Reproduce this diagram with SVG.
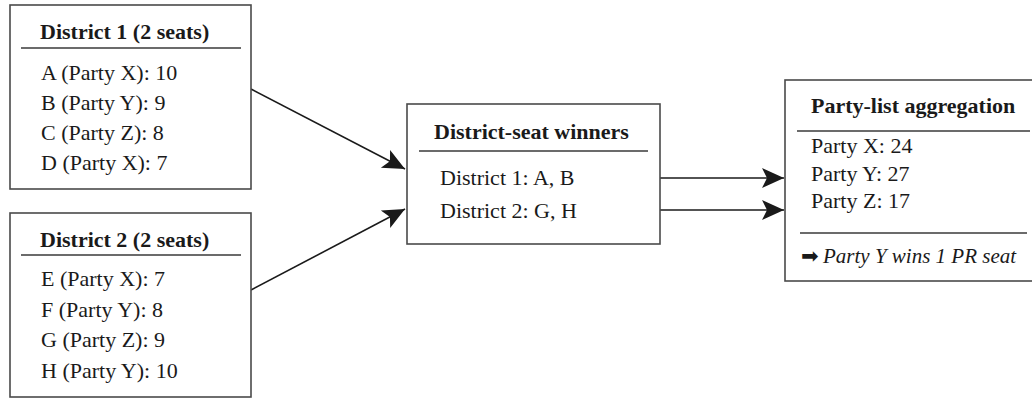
<svg xmlns="http://www.w3.org/2000/svg" width="1032" height="398" viewBox="0 0 1032 398">
<style>
.box{fill:#fff;stroke:#4a4a4a;stroke-width:1.6}
.sep{stroke:#3a3a3a;stroke-width:1.4}
.t{font-family:"Liberation Serif","Times New Roman",serif;font-size:22px;font-weight:bold;fill:#1a1a1a}
.b{font-family:"Liberation Serif","Times New Roman",serif;font-size:22px;fill:#1a1a1a}
.i{font-family:"Liberation Serif","Times New Roman",serif;font-size:21px;font-style:italic;fill:#1a1a1a}
.c{stroke:#1a1a1a;stroke-width:1.6;fill:none}
</style>
<defs>
<marker id="ah" markerWidth="24" markerHeight="22" refX="22" refY="11" orient="auto" markerUnits="userSpaceOnUse">
<path d="M0,1 L22,11 L0,21 L5,11 z" fill="#1a1a1a"/>
</marker>
</defs>
<rect width="1032" height="398" fill="#fff"/>
<g id="connectors">
<line class="c" x1="251" y1="89" x2="405" y2="169" marker-end="url(#ah)"/>
<line class="c" x1="251" y1="290" x2="405" y2="209" marker-end="url(#ah)"/>
<line class="c" x1="660" y1="178" x2="784" y2="178" marker-end="url(#ah)"/>
<line class="c" x1="660" y1="210" x2="784" y2="210" marker-end="url(#ah)"/>
</g>
<g id="district1">
<rect class="box" x="10" y="5" width="241" height="184"/>
<text class="t" x="40" y="39">District 1 (2 seats)</text>
<line class="sep" x1="21" y1="48" x2="241" y2="48"/>
<text class="b" x="41" y="80">A (Party X): 10</text>
<text class="b" x="41" y="110">B (Party Y): 9</text>
<text class="b" x="41" y="140">C (Party Z): 8</text>
<text class="b" x="41" y="170">D (Party X): 7</text>
</g>
<g id="district2">
<rect class="box" x="10" y="213" width="241" height="184"/>
<text class="t" x="40" y="247">District 2 (2 seats)</text>
<line class="sep" x1="21" y1="255" x2="241" y2="255"/>
<text class="b" x="41" y="286">E (Party X): 7</text>
<text class="b" x="41" y="317">F (Party Y): 8</text>
<text class="b" x="41" y="347">G (Party Z): 9</text>
<text class="b" x="41" y="378">H (Party Y): 10</text>
</g>
<g id="winners">
<rect class="box" x="407" y="104" width="253" height="140"/>
<text class="t" x="434" y="139">District-seat winners</text>
<line class="sep" x1="419" y1="151" x2="648" y2="151"/>
<text class="b" x="440" y="185">District 1: A, B</text>
<text class="b" x="440" y="218">District 2: G, H</text>
</g>
<g id="aggregation">
<rect class="box" x="785" y="80" width="260" height="201"/>
<text class="t" x="811" y="113">Party-list aggregation</text>
<line class="sep" x1="797" y1="131" x2="1030" y2="131"/>
<text class="b" x="811" y="153">Party X: 24</text>
<text class="b" x="811" y="181">Party Y: 27</text>
<text class="b" x="811" y="208">Party Z: 17</text>
<line class="sep" x1="800" y1="233" x2="1027" y2="233"/>
<text class="i" x="801" y="263"><tspan font-family="DejaVu Sans, sans-serif" font-style="normal" font-size="21">➡</tspan><tspan x="823">Party Y wins 1 PR seat</tspan></text>
</g>
</svg>
